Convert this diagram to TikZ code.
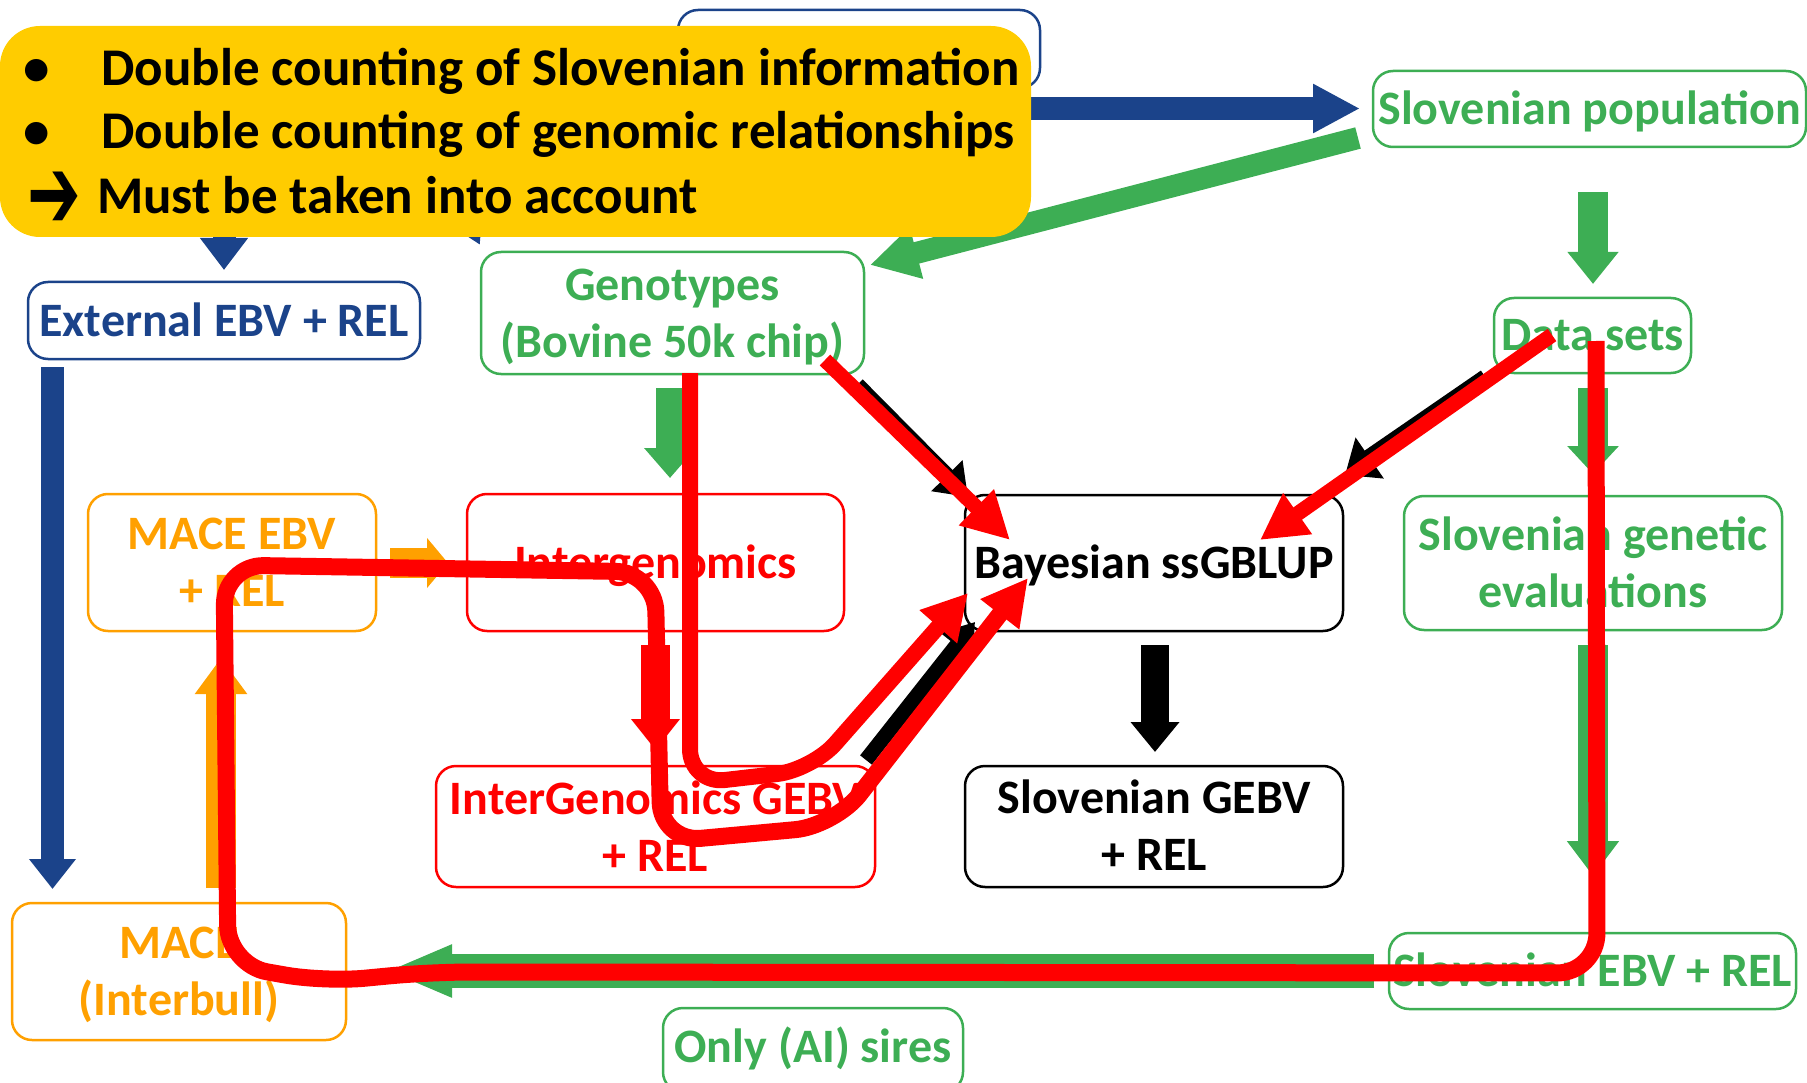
\documentclass[tikz,border=0pt]{standalone}
\usepackage{fontspec}
\setmainfont{Carlito}
\newfontfamily\symfont{DejaVu Sans}
\usetikzlibrary{arrows.meta}
\definecolor{cblue}{RGB}{27,67,138}
\definecolor{cgreen}{RGB}{61,174,84}
\definecolor{corange}{RGB}{255,160,0}
\definecolor{cred}{RGB}{255,0,0}
\definecolor{cyellow}{RGB}{255,204,0}
\newcommand\boxfont{\fontsize{48}{57}\selectfont\bfseries}
\newcommand\yfont{\fontsize{53}{60}\selectfont\bfseries}
% a line of box text whose baseline lies #1pt below its nominal position
\newcommand\bl[2][15.5]{\raisebox{-#1pt}[0pt][0pt]{#2}}
\tikzset{
  box/.style={draw=#1, text=#1, line width=2.5pt, rounded corners=20pt, align=center, inner sep=0pt, font=\boxfont},
  blk/.style n args={4}{draw=#1, line width=#2, -{Triangle[width=#3,length=#4]}},
  redpen/.style n args={3}{draw=cred, line width=#1, line join=round, -{Triangle[width=#2,length=#3]}},
  ytext/.style={font=\yfont, text=black, inner sep=0pt, anchor=base west},
}
\begin{document}
\begin{tikzpicture}[x=1pt,y=-1pt]
\useasboundingbox (0,0) rectangle (1807,1083);
% hidden top box
\node[box=cblue, minimum width=362pt, minimum height=78pt] (topblue) at (859,49) {};
% connector coordinates
\coordinate (b1s) at (1000,108.5); \coordinate (b1e) at (1360,108.5);
\coordinate (b2s) at (224,150);    \coordinate (b2e) at (224,270);
\coordinate (b3s) at (392,65);     \coordinate (b3e) at (480,245);
\coordinate (b4s) at (52.5,367);   \coordinate (b4e) at (52.5,889);
\coordinate (g1s) at (1358,138);   \coordinate (g1e) at (870,265);
\coordinate (g2s) at (1593,192);   \coordinate (g2e) at (1593,284);
\coordinate (g3s) at (1593,388);   \coordinate (g3e) at (1593,474);
\coordinate (g4s) at (1593,645);   \coordinate (g4e) at (1593,876);
\coordinate (g5s) at (1374,971);   \coordinate (g5e) at (386,971);
\coordinate (g6s) at (670,388);    \coordinate (g6e) at (670,478);
\coordinate (o1s) at (390,563);    \coordinate (o1e) at (448,563);
\coordinate (o2s) at (221,888);    \coordinate (o2e) at (221,658);
\coordinate (r1s) at (655.5,645);  \coordinate (r1e) at (655.5,750);
\coordinate (k1s) at (1155,645);   \coordinate (k1e) at (1155,752);
\coordinate (k2s) at (857,385);    \coordinate (k2e) at (968,497);
\coordinate (k3s) at (1486,378);   \coordinate (k3e) at (1345,475);
\coordinate (k4s) at (866,760);    \coordinate (k4e) at (975,622);
% block arrows
\draw[blk={cblue}{23pt}{46pt}{47pt}] (b1s) -- (b1e);
\draw[blk={cblue}{23pt}{46pt}{32pt}] (b2s) -- (b2e);
\draw[blk={cblue}{23pt}{46pt}{42pt}] (b3s) -- (b3e);
\draw[blk={cblue}{23pt}{45pt}{30pt}] (b4s) -- (b4e);
\draw[blk={cgreen}{22pt}{50pt}{48pt}] (g1s) -- (g1e);
\draw[blk={cgreen}{30pt}{49pt}{32pt}] (g2s) -- (g2e);
\draw[blk={cgreen}{30pt}{50pt}{28pt}] (g3s) -- (g3e);
\draw[blk={cgreen}{30pt}{50pt}{35pt}] (g4s) -- (g4e);
\draw[blk={cgreen}{34pt}{48pt}{66pt}] (g5s) -- (g5e);
\draw[blk={cgreen}{28pt}{50pt}{30pt}] (g6s) -- (g6e);
\draw[blk={corange}{30pt}{49pt}{21pt}] (o1s) -- (o1e);
\draw[blk={corange}{30pt}{50pt}{36pt}] (o2s) -- (o2e);
\draw[blk={cred}{29pt}{47pt}{31pt}] (r1s) -- (r1e);
\draw[blk={black}{28pt}{47pt}{30pt}] (k1s) -- (k1e);
\draw[blk={black}{16pt}{42pt}{30pt}] (k2s) -- (k2e);
\draw[blk={black}{18pt}{48pt}{30pt}] (k3s) -- (k3e);
\draw[blk={black}{15pt}{40pt}{30pt}] (k4s) -- (k4e);
% boxes
\node[box=cgreen, minimum width=433pt, minimum height=76pt] (pop) at (1589.5,109) {\bl{Slovenian population}};
\node[box=cgreen, minimum width=383pt, minimum height=122pt] (geno) at (672.5,313) {\bl{Genotypes}\\\bl{(Bovine 50k chip)}};
\node[box=cblue, minimum width=392pt, minimum height=77pt] (ext) at (224,320.5) {\bl{External EBV + REL}};
\node[box=cgreen, minimum width=197pt, minimum height=75pt] (data) at (1592.5,335.5) {\bl[14.5]{Data sets}};
\node[box=corange, minimum width=288pt, minimum height=137pt] (maceebv) at (232,562.5) {\bl{MACE EBV}\\\bl{+ REL}};
\node[box=cred, minimum width=377pt, minimum height=137pt] (interg) at (655.5,562.5) {\bl{Intergenomics}};
\node[box=black, minimum width=378pt, minimum height=136pt] (bayes) at (1154,563) {\bl[15]{Bayesian ssGBLUP}};
\node[box=cgreen, minimum width=378pt, minimum height=134pt] (sgeval) at (1593,563) {\bl{Slovenian genetic}\\\bl{evaluations}};
\node[box=cred, minimum width=439pt, minimum height=121pt] (igebv) at (655.5,826.5) {\bl[16]{InterGenomics GEBV}\\\bl[16]{+ REL}};
\node[box=black, minimum width=378pt, minimum height=121pt] (sgebv) at (1154,826.5) {\bl[15]{Slovenian GEBV}\\\bl[15]{+ REL}};
\node[box=corange, minimum width=334pt, minimum height=137pt] (mace) at (179,971.5) {\bl[15]{MACE}\\\bl[15]{(Interbull)}};
\node[box=cgreen, minimum width=407pt, minimum height=76pt] (sebv) at (1592.5,971) {\bl{Slovenian EBV + REL}};
\node[box=cgreen, minimum width=300pt, minimum height=84pt] (only) at (813,1050) {\bl[12]{Only (AI) sires}};
% red hand-drawn annotations
\coordinate (ra1s) at (825,360);  \coordinate (ra1e) at (1010,540);
\coordinate (ra2s) at (1552,335); \coordinate (ra2e) at (1260,540);
\draw[redpen={15pt}{47pt}{47pt}] (ra1s) -- (ra1e);
\draw[redpen={15pt}{47pt}{46pt}] (ra2s) -- (ra2e);
\coordinate (pas) at (690,373); \coordinate (pae) at (968,593);
\draw[redpen={16pt}{47pt}{45pt}, rounded corners=35pt] (pas) -- (690,784) -- (812,770) -- (pae);
\coordinate (pbs) at (1596,341); \coordinate (pbe) at (1028,578);
\draw[redpen={17pt}{46pt}{46pt}, rounded corners=40pt] (pbs) -- (1597,973) -- (430,972) -- (325,982) -- (228,965) -- (224,565) -- (655,572) -- (661,842) -- (835,826) -- (pbe);
% yellow callout
\node[fill=cyellow, rounded corners=40pt, minimum width=1031pt, minimum height=211pt, inner sep=0pt] (yb) at (515.5,131.5) {};
\node[ytext, anchor=base] (d1) at (37,86) {•};
\node[ytext] (t1) at (101,86) {Double counting of Slovenian information};
\node[ytext, anchor=base] (d2) at (37,149) {•};
\node[ytext] (t2) at (101,149) {Double counting of genomic relationships};
\node[inner sep=0pt, anchor=base, font=\symfont\bfseries\fontsize{64}{64}\selectfont] (ar) at (54.5,229) {\smash{\scalebox{1}[1.6]{➔}}};
\node[ytext] (t3) at (97,214) {Must be taken into account};
\end{tikzpicture}
\end{document}
